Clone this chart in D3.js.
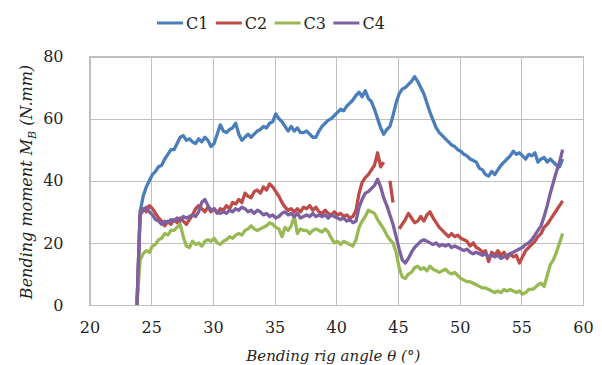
<!DOCTYPE html>
<html>
<head>
<meta charset="utf-8">
<script src="https://cdn.jsdelivr.net/npm/d3@7"></script>
<style>
  body { margin: 0; background: #fff; }
  svg text { font-family: "DejaVu Serif", serif; fill: #1f1f1f; }
</style>
</head>
<body>
<svg id="chart" width="602" height="365"></svg>
<script>
// bending rig angle (deg), one sample every 0.25 deg
var angles = [
  23.85,
  24.1, 24.35, 24.6, 24.85, 25.1, 25.35, 25.6, 25.85, 26.1, 26.35, 26.6, 26.85,
  27.1, 27.35, 27.6, 27.85, 28.1, 28.35, 28.6, 28.85, 29.1, 29.35, 29.6, 29.85,
  30.1, 30.35, 30.6, 30.85, 31.1, 31.35, 31.6, 31.85, 32.1, 32.35, 32.6, 32.85,
  33.1, 33.35, 33.6, 33.85, 34.1, 34.35, 34.6, 34.85, 35.1, 35.35, 35.6, 35.85,
  36.1, 36.35, 36.6, 36.85, 37.1, 37.35, 37.6, 37.85, 38.1, 38.35, 38.6, 38.85,
  39.1, 39.35, 39.6, 39.85, 40.1, 40.35, 40.6, 40.85, 41.1, 41.35, 41.6, 41.85,
  42.1, 42.35, 42.6, 42.85, 43.1, 43.35, 43.6, 43.85, 44.1, 44.35, 44.6, 44.85,
  45.1, 45.35, 45.6, 45.85, 46.1, 46.35, 46.6, 46.85, 47.1, 47.35, 47.6, 47.85,
  48.1, 48.35, 48.6, 48.85, 49.1, 49.35, 49.6, 49.85, 50.1, 50.35, 50.6, 50.85,
  51.1, 51.35, 51.6, 51.85, 52.1, 52.35, 52.6, 52.85, 53.1, 53.35, 53.6, 53.85,
  54.1, 54.35, 54.6, 54.85, 55.1, 55.35, 55.6, 55.85, 56.1, 56.35, 56.6, 56.85,
  57.1, 57.35, 57.6, 57.85, 58.1, 58.35
];

// bending moment M_B (N.mm) per specimen
var c1 = [
  0,30,35,38,40,42,43,44.5,45,47,48.5,50,50,52,54,54.5,53,53.5,52.5,52,
  53.5,52.5,54,53,51,52,55,58,56,55.5,56.5,57,58.5,55,53,54,55,54,55,56,
  56.5,57.5,57,58.5,59,61.5,60,59,57.5,56,57.5,56,57,55.5,55.5,
  56,55,54,54,56,57.5,58.5,59.5,60,61,62,63,62.5,64,65,66,67.5,68.5,67,69,
  66.5,65.5,63,60,57,55,56.5,57.5,61,65,68,69.5,70,71,72,73.5,72,70,68,65,
  62,59.5,57,55.5,54.5,53.5,52.5,51.5,51,50,49.5,48.5,48,47,46.5,46,44,43.5,42,41.5,
  43,42,43.5,45,46,47,48,49.5,48.5,49,48,47,48.5,48,49,46,47,47.5,46,47,
  46,45,44.5,47
];
var c2 = [
  0,29,31,30,32,31,29.5,28,27,25.5,27,26,27.5,26.5,28,27,26,27.5,29,31,
  32,31,30,31.5,30,31,29.5,31,30.5,32,31,33,32.5,34,33,36,35,34.5,36.5,37,
  36,38,37,39,38,36.5,35,33,31.5,30.5,31,30,31,30,31.5,
  31,32,30.5,31.5,30,29.5,30.5,29.5,29,30,29,29.5,28.5,29,28,28.5,30.5,36,39.5,41,
  42,43.5,45,49,44.5,46,null,40,33,null,24.5,26,27.5,29.5,28,26.5,27,28.5,27,29,
  30,28,26.5,25,24,23,22,23,22,22.5,21.5,21,20.5,19,20,18.5,18,17,17.5,14,
  17,16,17.5,16,17,15,16.5,15.5,16,13.5,15.5,17.5,18.5,19.5,20.5,22,23,25,26,27.5,
  29,30.5,32,33.5
];
var c3 = [
  0,14.5,16.5,17.5,17,19,19.5,21,21.5,23,22.5,24,24,25,26,22,19,18.5,20.5,19.5,
  20,19,20.5,21,20.5,21.5,20,19.5,20.5,21,22,21.5,22.5,23,22.5,24,24.5,25.5,24.5,24,
  24.5,25,25.5,26.5,26,25,24.5,22,25,24,25.5,28.5,23,24.5,24,
  24,23,24,24.5,24,23.5,24.5,23.5,21.5,20,20.5,19.5,20.5,20,19.5,19,21,25,27,28.5,
  30.5,30,29.5,27.5,26,24.5,22.5,21,20,17,12,9,8.5,10,10.5,12,12.5,11.5,12,11,
  12.5,11.5,11,10.5,11,11.5,10.5,10,10.5,9.5,8.5,8,7.5,7.5,7,6.5,6,5.5,5.5,5,
  4.5,4,4.5,4,5,4.5,5,4.5,4,4.5,3.5,4,5,5,5.5,6.5,7,6,9.5,13,
  14.5,17,20,23
];
var c4 = [
  0,29,30.5,31.5,30,29,27.5,27,26,27,26.5,27.5,27,28,27,28.5,28,28.5,29,28.5,
  30,33,34,32,30.5,31,30,29.5,30,29.5,30.5,30,31,30.5,31.5,31,30,30.5,29.5,30.5,
  30,29,29.5,28.5,29,28,28.5,29.5,30,29,29.5,28.5,29.5,28,28.5,
  29,28.5,29.5,28.5,29,28.5,29,28,29,28.5,28,27.5,28,27,27.5,26.5,27,31.5,34,36,
  36.5,37.5,38.5,40.5,38,34.5,32,29,26,22,18,14.5,13.5,15,17,18.5,19.5,20.5,21,20.5,
  20,19.5,20,19,19.5,19,19.5,18.5,19,18.5,18,17.5,18,17,16.5,17,16.5,16,16.5,15.5,
  16,15.5,16,15,15.5,16,16.5,17,17.5,18,18.5,19.5,20,21,22.5,24,25.5,28.5,32,36,
  39.5,43,46,50
];

var seriesNames = ['C1', 'C2', 'C3', 'C4'];
var seriesColors = ['#4a7ebb', '#be4b48', '#98b954', '#7d60a0'];
var xTicks = [20, 25, 30, 35, 40, 45, 50, 55, 60];
var yTicks = [0, 20, 40, 60, 80];

var svg = d3.select('#chart');
var plotLeft = 89.5, plotRight = 583, plotTop = 56.5, plotBottom = 305;
var gridColor = '#c0c0c0';

var x = d3.scaleLinear().domain([20, 60]).range([plotLeft, plotRight]);
var y = d3.scaleLinear().domain([0, 80]).range([plotBottom, plotTop]);

// axes with full-length ticks used as gridlines
var gx = svg.append('g')
  .attr('transform', 'translate(0,' + plotBottom + ')')
  .call(d3.axisBottom(x).tickValues(xTicks).tickSize(-(plotBottom - plotTop)).tickPadding(17));
var gy = svg.append('g')
  .attr('transform', 'translate(' + plotLeft + ',0)')
  .call(d3.axisLeft(y).tickValues(yTicks).tickSize(-(plotRight - plotLeft)).tickPadding(26));

[gx, gy].forEach(function(g) {
  g.attr('font-size', null).attr('font-family', null);
  g.select('.domain').remove();
  g.selectAll('.tick line').attr('stroke', gridColor).attr('shape-rendering', 'crispEdges');
  g.selectAll('.tick text').attr('font-size', 16).attr('fill', null);
});

svg.append('rect')
  .attr('x', plotLeft).attr('y', plotTop)
  .attr('width', plotRight - plotLeft).attr('height', plotBottom - plotTop)
  .attr('fill', 'none').attr('stroke', gridColor)
  .attr('shape-rendering', 'crispEdges');

// series, drawn C1 first so C4 sits on top
var line = d3.line()
  .defined(function(d) { return d != null; })
  .x(function(d, i) { return x(angles[i]); })
  .y(function(d) { return y(d); });

[c1, c2, c3, c4].forEach(function(values, k) {
  svg.append('path')
    .datum(values)
    .attr('d', line)
    .attr('fill', 'none')
    .attr('stroke', seriesColors[k])
    .attr('stroke-width', 3.3)
    .attr('stroke-linejoin', 'round');
});

// legend
var legend = svg.append('g').attr('transform', 'translate(157,23)');
var item = legend.selectAll('g').data(seriesNames).join('g')
  .attr('transform', function(d, i) { return 'translate(' + (i * 58.8) + ',0)'; });
item.append('line')
  .attr('x1', 0).attr('x2', 26).attr('y1', 0).attr('y2', 0)
  .attr('stroke', function(d, i) { return seriesColors[i]; })
  .attr('stroke-width', 3);
item.append('text')
  .attr('x', 29).attr('y', 6)
  .attr('font-size', 16)
  .text(function(d) { return d; });

// axis titles
svg.append('text')
  .attr('x', (plotLeft + plotRight) / 2 - 3).attr('y', 361)
  .attr('text-anchor', 'middle')
  .attr('font-size', 15).attr('font-style', 'italic')
  .text('Bending rig angle θ (°)');

var yTitle = svg.append('text')
  .attr('transform', 'translate(32,182) rotate(-90)')
  .attr('text-anchor', 'middle')
  .attr('font-size', 16).attr('font-style', 'italic');
yTitle.append('tspan').text('Bending moment M');
yTitle.append('tspan').attr('dy', 4).attr('font-size', 11).text('B');
yTitle.append('tspan').attr('dy', -4).text(' (N.mm)');
</script>
</body>
</html>
